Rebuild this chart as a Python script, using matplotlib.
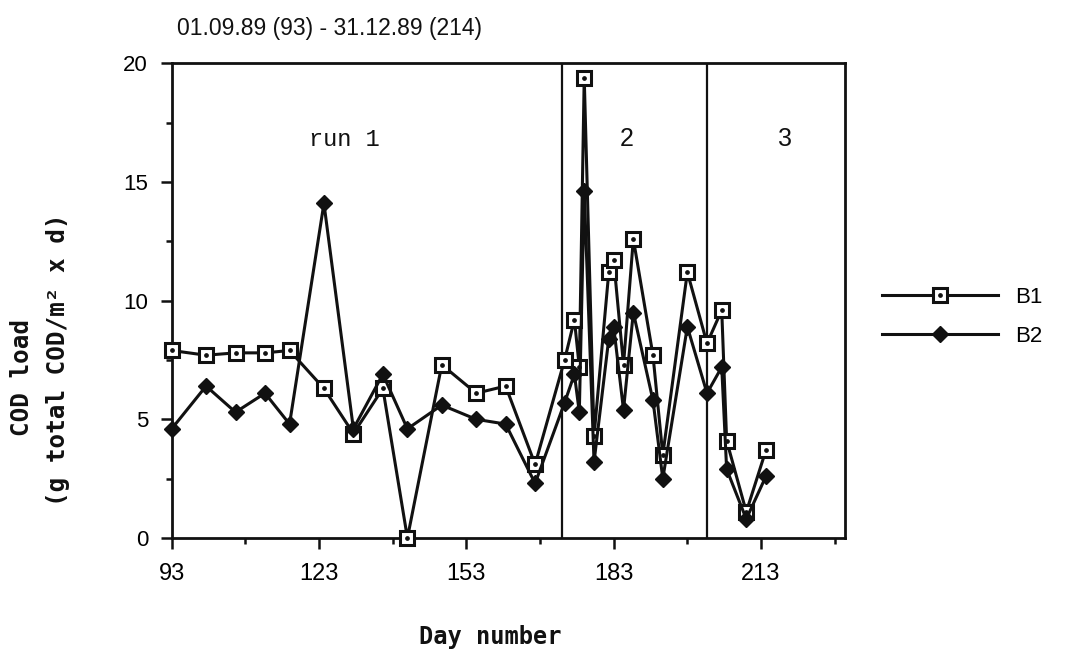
import matplotlib.pyplot as plt
from matplotlib.ticker import MultipleLocator, FixedLocator
from matplotlib.legend_handler import HandlerTuple

# jours et charges DCO
days = [93, 100, 106, 112, 117, 124, 130, 136, 141, 148, 155, 161, 167,
        173, 175, 176, 177, 179, 182, 183, 185, 187, 191, 193, 198, 202,
        205, 206, 210, 214]
b1 = [7.9, 7.7, 7.8, 7.8, 7.9, 6.3, 4.4, 6.3, 0.0, 7.3, 6.1, 6.4, 3.1,
      7.5, 9.2, 7.2, 19.4, 4.3, 11.2, 11.7, 7.3, 12.6, 7.7, 3.5, 11.2, 8.2,
      9.6, 4.1, 1.1, 3.7]
b2 = [4.6, 6.4, 5.3, 6.1, 4.8, 14.1, 4.6, 6.9, 4.6, 5.6, 5.0, 4.8, 2.3,
      5.7, 6.9, 5.3, 14.6, 3.2, 8.4, 8.9, 5.4, 9.5, 5.8, 2.5, 8.9, 6.1,
      7.2, 2.9, 0.8, 2.6]

run_bounds = [172.5, 202]
x_ticks = [93, 123, 153, 183, 213]
y_ticks = [0, 5, 10, 15, 20]

sans = 'Liberation Sans'
mono = 'DejaVu Sans Mono'
ink = '#111111'

fig = plt.figure(figsize=(10.69, 6.59), dpi=100)
ax = fig.add_axes([0.1606, 0.1836, 0.6294, 0.7204])

# B1 : carres ouverts avec point central
l1, = ax.plot(days, b1, color=ink, lw=2.2, marker='s', ms=10.5, mfc='white',
              mec=ink, mew=2.2, clip_on=False, zorder=3)
d1, = ax.plot(days, b1, ls='none', marker='o', ms=2.4, color=ink,
              clip_on=False, zorder=4)
# B2 : losanges pleins
l2, = ax.plot(days, b2, color=ink, lw=2.2, marker='D', ms=8, mfc=ink,
              mec=ink, clip_on=False, zorder=5)

for b in run_bounds:
    ax.axvline(b, color=ink, lw=1.6, zorder=2)

ax.set_xlim(93, 230)
ax.set_ylim(0, 20)
ax.xaxis.set_major_locator(FixedLocator(x_ticks))
ax.xaxis.set_minor_locator(FixedLocator([108, 138, 168, 198, 228]))
ax.yaxis.set_major_locator(FixedLocator(y_ticks))
ax.yaxis.set_minor_locator(MultipleLocator(2.5))
ax.tick_params(which='major', direction='out', length=8, width=1.8, color=ink)
ax.tick_params(which='minor', direction='out', length=4, width=1.8, color=ink)
ax.tick_params(axis='x', pad=10)
ax.tick_params(axis='y', pad=9)
for lab in ax.get_xticklabels():
    lab.set_fontfamily(sans)
    lab.set_fontsize(17)
for lab in ax.get_yticklabels():
    lab.set_fontfamily(sans)
    lab.set_fontsize(16)
for sp in ax.spines.values():
    sp.set_linewidth(2)
    sp.set_color(ink)

# textes des runs
ax.text(0.257, 0.84, 'run 1', transform=ax.transAxes, ha='center', va='center',
        fontsize=17, family='Liberation Mono', color=ink)
ax.text(0.677, 0.84, '2', transform=ax.transAxes, ha='center', va='center',
        fontsize=18, family=sans, color=ink)
ax.text(0.911, 0.84, '3', transform=ax.transAxes, ha='center', va='center',
        fontsize=18, family=sans, color=ink)

fig.text(177 / 1069, 1 - 28 / 659, '01.09.89 (93) - 31.12.89 (214)',
         ha='left', va='center', fontsize=16.5, family=sans, color=ink)

# etiquettes des axes
fig.text(490 / 1069, 1 - 637 / 659, 'Day number', ha='center', va='center',
         fontsize=17, family=mono, weight='bold', color=ink)
fig.text(22 / 1069, 1 - 377 / 659, 'COD load', rotation=90, ha='center',
         va='center', fontsize=17.5, family=mono, weight='bold', color=ink)
fig.text(58 / 1069, 1 - 360 / 659, '(g total COD/m² x d)', rotation=90,
         ha='center', va='center', fontsize=17.5, family=mono, weight='bold',
         color=ink)

leg = fig.legend([(l1, d1), l2], ['B1', 'B2'], loc='center left',
                 bbox_to_anchor=(862 / 1069, 1 - 317 / 659), frameon=False,
                 handlelength=5.2, handletextpad=0.8, labelspacing=0.8,
                 numpoints=1, prop={'family': sans, 'size': 16},
                 handler_map={tuple: HandlerTuple(ndivide=1)})

fig.savefig('out.png', dpi=100)
